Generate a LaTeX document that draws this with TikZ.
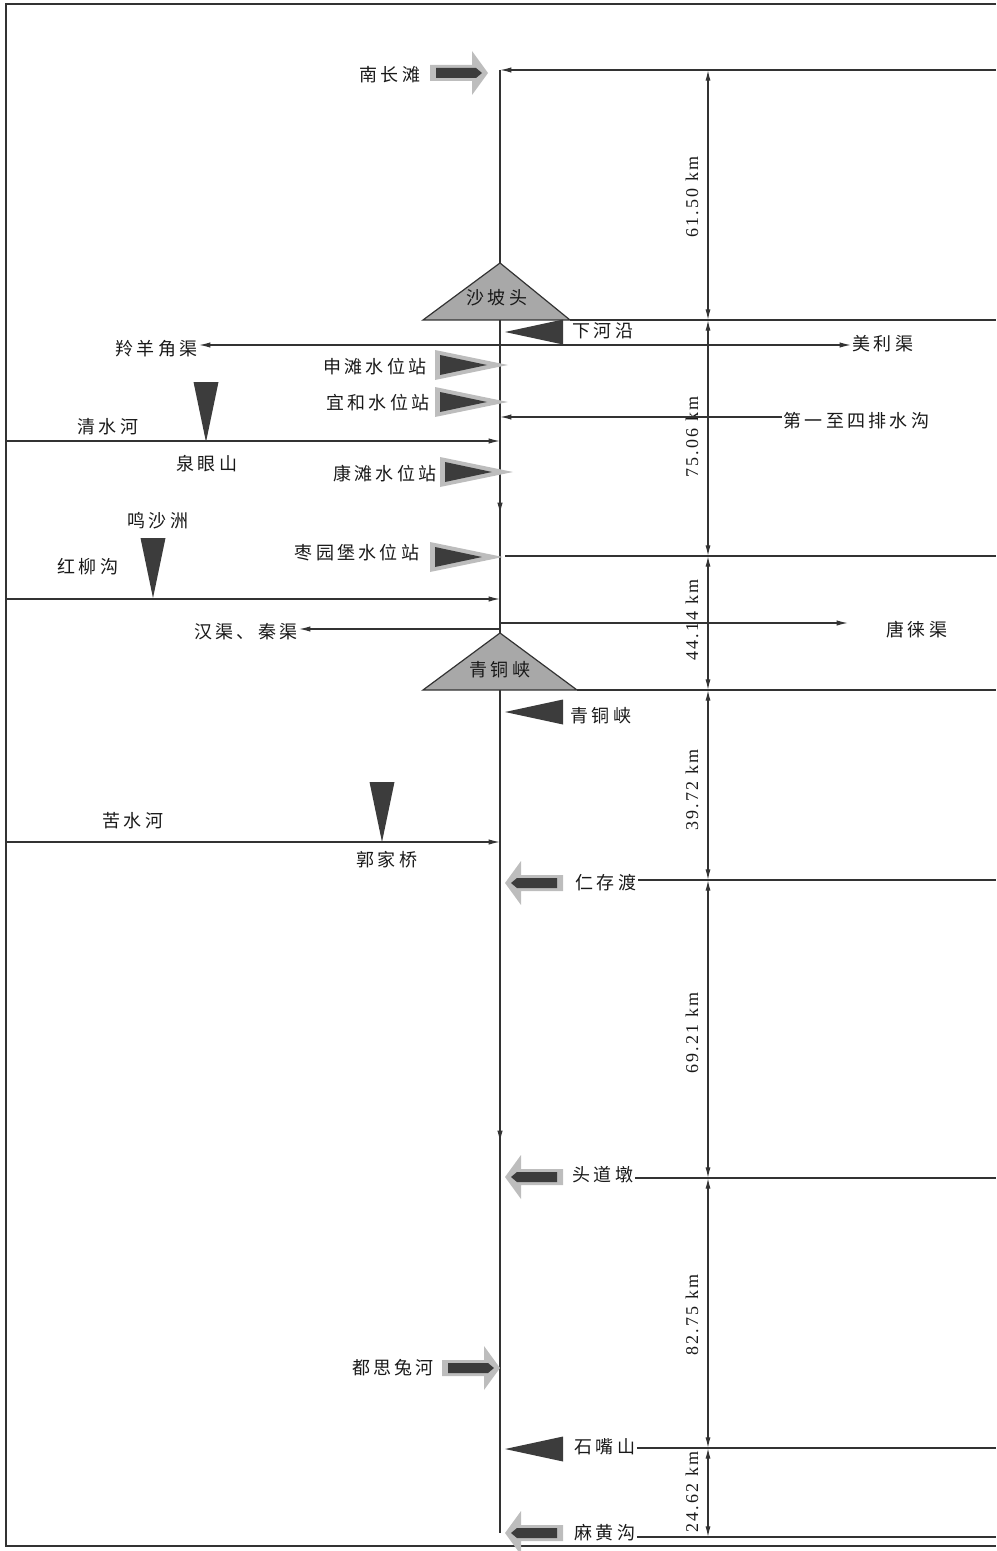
\documentclass[tikz,border=0pt]{standalone}
\usepackage{fontspec}
\newfontfamily\cjk[LetterSpace=18]{Noto Sans CJK SC}
\newfontfamily\numfont[LetterSpace=12]{Liberation Serif}
\usetikzlibrary{arrows.meta}
\definecolor{lgray}{HTML}{BDBDBD}
\definecolor{dgray}{HTML}{3C3C3C}
\definecolor{tgray}{HTML}{A8A8A8}
\definecolor{lncol}{HTML}{333333}
\tikzset{
  ln/.style={draw=lncol,line width=0.9pt},
  arr/.style={ln,-{Latex[length=8.5pt,width=4pt]}},
  dimarr/.style={ln,{Latex[length=8pt,width=3.8pt]}-{Latex[length=8pt,width=3.8pt]}},
  lbl/.style={font=\cjk\fontsize{13.5}{15}\selectfont,text=black!90,inner sep=1pt},
  dlbl/.style={font=\numfont\fontsize{13.5}{15}\selectfont,text=black!90,rotate=90,inner sep=1pt},
  bigtri/.style={fill=tgray,draw=lncol,line width=0.9pt},
  pics/inflowarrow/.style={code={
    \fill[lgray] (0,0)--(-16,-22)--(-16,-8)--(-58,-8)--(-58,8)--(-16,8)--(-16,22)--cycle;
    \fill[dgray] (-6,0)--(-12,-5)--(-52,-5)--(-52,5)--(-12,5)--cycle;
  }},
  pics/stnsym/.style={code={
    \fill[lgray] (0,0)--(-73,-15)--(-73,15)--cycle;
    \fill[dgray] (-21,0)--(-68,-10)--(-68,10)--cycle;
  }},
  pics/hydrotri/.style={code={
    \fill[dgray] (0,0)--(58,-12.5)--(58,12.5)--cycle;
  }},
  pics/downtri/.style={code={
    \fill[dgray] (0,0)--(-12.5,-60)--(12.5,-60)--cycle;
  }}
}
\begin{document}
\begin{tikzpicture}[x=0.75pt,y=-0.75pt]
\useasboundingbox (0,0) rectangle (996,1551);
% frame
\coordinate (F1) at (996,4);
\coordinate (F2) at (6,4);
\coordinate (F3) at (6,1546);
\coordinate (F4) at (996,1546);
\draw[ln,line width=1.1pt] (F1)--(F2)--(F3)--(F4);

% main river
\coordinate (M0) at (500,70);
\coordinate (Ma0) at (500,490);
\coordinate (Ma) at (500,514);
\coordinate (Mb0) at (500,1118);
\coordinate (Mb) at (500,1142);
\coordinate (M1) at (500,1533);
\draw[ln] (M0)--(M1);
\draw[arr] (Ma0)--(Ma);
\draw[arr] (Mb0)--(Mb);

% reference lines
\coordinate (R1e) at (996,70);
\draw[arr] (R1e)--(M0);

% dimension chain
\coordinate (D1) at (708,70);
\coordinate (D2) at (708,320);
\coordinate (D3) at (708,556);
\coordinate (D4) at (708,690);
\coordinate (D5) at (708,880);
\coordinate (D6) at (708,1178);
\coordinate (D7) at (708,1448);
\coordinate (D8) at (708,1537);
\draw[dimarr] (D1)--(D2);
\draw[dimarr] (D2)--(D3);
\draw[dimarr] (D3)--(D4);
\draw[dimarr] (D4)--(D5);
\draw[dimarr] (D5)--(D6);
\draw[dimarr] (D6)--(D7);
\draw[dimarr] (D7)--(D8);
\node[dlbl] (dl1) at (692,197) {61.50 km};
\node[dlbl] (dl2) at (692,437) {75.06 km};
\node[dlbl] (dl3) at (692,620) {44.14 km};
\node[dlbl] (dl4) at (692,790) {39.72 km};
\node[dlbl] (dl5) at (692,1033) {69.21 km};
\node[dlbl] (dl6) at (692,1315) {82.75 km};
\node[dlbl] (dl7) at (692,1492) {24.62 km};

% 南长滩
\pic at (488,73) {inflowarrow};
\node[lbl] (nct) at (390,75) {南长滩};

% 沙坡头
\coordinate (sA) at (500,263);
\coordinate (sL) at (423,320);
\coordinate (sR) at (570,320);
\coordinate (R2e) at (996,320);
\draw[ln] (sR)--(R2e);
\filldraw[bigtri] (sA)--(sL)--(sR)--cycle;
\node[lbl] (spt) at (497,298) {沙坡头};

% 下河沿
\pic at (505,332) {hydrotri};
\node[lbl] (xhy) at (603,331) {下河沿};

% 羚羊角渠 / 美利渠
\coordinate (j1) at (500,345);
\node[lbl,anchor=east] (lyj) at (199,349) {羚羊角渠};
\node[lbl,anchor=west] (mlq) at (851,344) {美利渠};
\draw[arr] (j1)--(lyj.east |- j1);
\draw[arr] (j1)--(mlq.west |- j1);

% stations
\pic at (508,365) {stnsym};
\node[lbl] (stsh) at (375,367) {申滩水位站};
\pic at (508,402) {stnsym};
\node[lbl] (styh) at (378,403) {宜和水位站};
\pic at (513,472) {stnsym};
\node[lbl] (stkt) at (385,474) {康滩水位站};
\pic at (503,557) {stnsym};
\node[lbl] (stzy) at (357,553) {枣园堡水位站};
\coordinate (R3e) at (996,556);
\coordinate (R3s) at (505,556);
\draw[ln] (R3s)--(R3e);

% 第一至四排水沟
\node[lbl,anchor=west] (pss) at (782,421) {第一至四排水沟};
\coordinate (j2) at (500,417);
\draw[arr] (pss.west |- j2)--(j2);

% 清水河 / 泉眼山
\coordinate (qs0) at (6,441);
\coordinate (j3) at (500,441);
\draw[arr] (qs0)--(j3);
\node[lbl] (qsh) at (108,427) {清水河};
\pic at (206,442) {downtri};
\node[lbl] (qys) at (207,464) {泉眼山};

% 鸣沙洲 / 红柳沟
\node[lbl] (msz) at (158,521) {鸣沙洲};
\pic at (153,598) {downtri};
\node[lbl] (hlg) at (88,567) {红柳沟};
\coordinate (hl0) at (6,599);
\coordinate (j4) at (500,599);
\draw[arr] (hl0)--(j4);

% 汉渠、秦渠 / 唐徕渠
\coordinate (j5) at (500,629);
\coordinate (j6) at (500,623);
\node[lbl,anchor=east] (hqq) at (299,632) {汉渠、秦渠};
\coordinate (tlt) at (848,623);
\node[lbl] (tlq) at (917,630) {唐徕渠};
\draw[arr] (j5)--(hqq.east |- j5);
\draw[arr] (j6)--(tlt);

% 青铜峡 dam
\coordinate (qA) at (500,633);
\coordinate (qL) at (423,690);
\coordinate (qR) at (577,690);
\coordinate (R4e) at (996,690);
\draw[ln] (qR)--(R4e);
\filldraw[bigtri] (qA)--(qL)--(qR)--cycle;
\node[lbl] (qtx1) at (500,670) {青铜峡};

% 青铜峡 station
\pic at (505,712) {hydrotri};
\node[lbl] (qtx2) at (601,716) {青铜峡};

% 苦水河 / 郭家桥
\coordinate (ks0) at (6,842);
\coordinate (j7) at (500,842);
\draw[arr] (ks0)--(j7);
\node[lbl] (ksh) at (133,821) {苦水河};
\pic at (382,842) {downtri};
\node[lbl] (gjq) at (387,860) {郭家桥};

% 仁存渡
\pic[xscale=-1] at (505,883) {inflowarrow};
\node[lbl] (rcd) at (606,883) {仁存渡};
\coordinate (R5e) at (996,880);
\draw[ln] (rcd.east |- R5e)--(R5e);

% 头道墩
\pic[xscale=-1] at (505,1177) {inflowarrow};
\node[lbl] (tdd) at (603,1175) {头道墩};
\coordinate (R6e) at (996,1178);
\draw[ln] (tdd.east |- R6e)--(R6e);

% 都思兔河
\pic at (500,1368) {inflowarrow};
\node[lbl] (dsth) at (393,1368) {都思兔河};

% 石嘴山
\pic at (505,1449) {hydrotri};
\node[lbl] (szs) at (605,1447) {石嘴山};
\coordinate (R7e) at (996,1448);
\draw[ln] (szs.east |- R7e)--(R7e);

% 麻黄沟
\pic[xscale=-1] at (505,1533) {inflowarrow};
\node[lbl] (mhg) at (605,1533) {麻黄沟};
\coordinate (R8e) at (996,1537);
\draw[ln] (mhg.east |- R8e)--(R8e);
\end{tikzpicture}
\end{document}
